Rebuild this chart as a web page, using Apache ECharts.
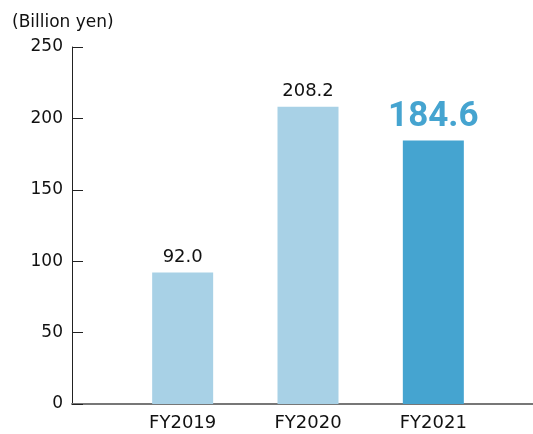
<!DOCTYPE html>
<html lang="en">
<head>
    <meta charset="UTF-8">
    <title>Billion yen</title>
    <style>
        * { margin: 0; padding: 0; }
        #main { width: 533px; height: 434px; }
    </style>
</head>
<body>
    <div id="main"></div>
    <script src="https://cdn.jsdelivr.net/npm/echarts@6/dist/echarts.min.js"></script>
    <script>
        var years = ['FY2019', 'FY2020', 'FY2021'];
        var values = [92.0, 208.2, 184.6];
        var yTicks = [0, 50, 100, 150, 200, 250];

        var lightBlue = '#a8d1e6', darkBlue = '#45a4d0';
        var font = '"DejaVu Sans", sans-serif';

        var barData = values.map(function (v, i) {
            var last = i === values.length - 1;
            return {
                value: v,
                itemStyle: { color: last ? darkBlue : lightBlue },
                label: last ? {
                    fontSize: 35, fontWeight: 'bold', color: darkBlue, distance: 6,
                    fontFamily: 'Roboto, sans-serif'
                } : {}
            };
        });

        var chart = echarts.init(document.getElementById('main'));
        chart.setOption({
            animation: false,
            textStyle: { fontFamily: font },
            title: {
                text: '(Billion yen)',
                left: 7, top: 9,
                textStyle: { fontSize: 17, fontWeight: 'normal', color: '#111', fontFamily: font }
            },
            grid: [
                { left: 72, right: 0, top: 47, bottom: 30 },
                { left: 120, right: 37, top: 47, bottom: 30 }
            ],
            xAxis: [
                {
                    gridIndex: 0, type: 'value', min: 0, max: 1,
                    axisLine: { show: true, lineStyle: { color: '#777', width: 2 } },
                    axisTick: { show: false }, axisLabel: { show: false }, splitLine: { show: false }
                },
                {
                    gridIndex: 1, type: 'category', data: years,
                    axisLine: { show: false }, axisTick: { show: false },
                    axisLabel: { fontSize: 18, color: '#111', margin: 10 }
                }
            ],
            yAxis: [
                {
                    gridIndex: 0, type: 'value', min: yTicks[0], max: yTicks[yTicks.length - 1], interval: 50,
                    axisLine: { show: true, lineStyle: { color: '#222', width: 1 } },
                    axisTick: { show: true, inside: true, length: 11, lineStyle: { color: '#222' } },
                    axisLabel: { fontSize: 17, color: '#111', margin: 9 },
                    splitLine: { show: false }
                },
                {
                    gridIndex: 1, type: 'value', min: 0, max: 250, show: false
                }
            ],
            series: [{
                type: 'bar',
                xAxisIndex: 1, yAxisIndex: 1,
                barWidth: 61,
                data: barData,
                label: {
                    show: true, position: 'top', distance: 6,
                    fontSize: 18, color: '#111',
                    formatter: function (p) { return p.value.toFixed(1); }
                }
            }]
        });
    </script>
</body>
</html>
